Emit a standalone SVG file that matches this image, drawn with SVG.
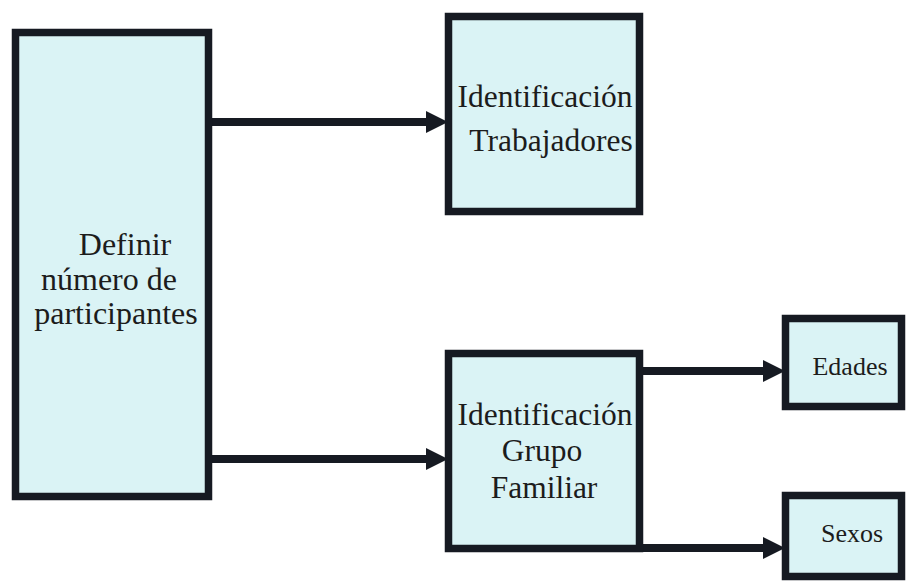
<svg xmlns="http://www.w3.org/2000/svg" width="917" height="581" viewBox="0 0 917 581">
<style>
.box{fill:#daf3f5;stroke:#161a22;stroke-width:7.5}
.lbl{font-family:'Liberation Serif','Times New Roman',serif;fill:#1c1c1c;text-anchor:middle}
.conn{stroke:#161a22;stroke-width:8;fill:none}
</style>
<defs>
<marker id="ah" markerUnits="userSpaceOnUse" markerWidth="22" markerHeight="24" refX="0" refY="12" orient="auto" overflow="visible">
<path d="M0,1 L22,12 L0,23 z" fill="#161a22"/>
</marker>
</defs>
<rect width="917" height="581" fill="#ffffff"/>
<g id="connectors">
<path class="conn" d="M210,122 H426" marker-end="url(#ah)"/>
<path class="conn" d="M210,459 H426" marker-end="url(#ah)"/>
<path class="conn" d="M640,371 H763" marker-end="url(#ah)"/>
<path class="conn" d="M640,548 H763" marker-end="url(#ah)"/>
</g>
<g id="definir">
<rect class="box" x="15.5" y="32.5" width="193" height="464"/>
<text class="lbl" font-size="32"><tspan x="125" y="255">Definir</tspan><tspan x="109" y="290">número de</tspan><tspan x="116" y="324">participantes</tspan></text>
</g>
<g id="trabajadores">
<rect class="box" x="448.5" y="16.5" width="191" height="195"/>
<text class="lbl" font-size="31.5"><tspan x="545" y="107">Identificación</tspan><tspan x="551" y="151">Trabajadores</tspan></text>
</g>
<g id="grupo">
<rect class="box" x="448.5" y="353.5" width="191" height="195"/>
<text class="lbl" font-size="31.5"><tspan x="545" y="425">Identificación</tspan><tspan x="542" y="461">Grupo</tspan><tspan x="544" y="498">Familiar</tspan></text>
</g>
<g id="edades">
<rect class="box" x="785.5" y="318.5" width="116" height="88"/>
<text class="lbl" font-size="26" x="850" y="375">Edades</text>
</g>
<g id="sexos">
<rect class="box" x="785.5" y="495.5" width="116" height="81"/>
<text class="lbl" font-size="26" x="852" y="542">Sexos</text>
</g>
</svg>
